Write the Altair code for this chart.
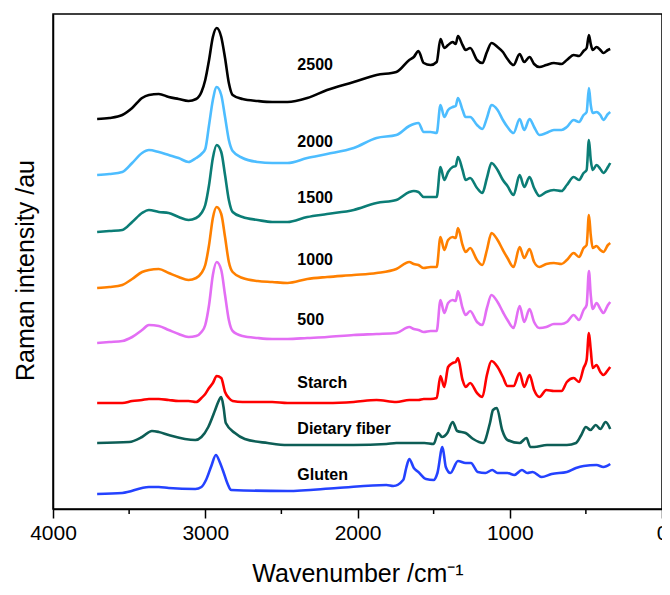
import altair as alt
import pandas as pd

# Shared wavenumber grid (cm-1) for the flour blends and starch
wn_common = [3710, 3630, 3545, 3480, 3415, 3370, 3305, 3240, 3175, 3110,
             3060, 3025, 3000, 2975, 2950, 2925, 2895, 2870, 2845, 2820,
             2755, 2655, 2560, 2460, 2330, 2200, 2025, 1875, 1745, 1660,
             1630, 1600, 1565, 1520, 1480, 1455, 1430, 1405, 1375, 1355,
             1340, 1310, 1290, 1260, 1215, 1180, 1150, 1120, 1080, 1045,
             1015, 975, 935, 905, 870, 840, 805, 760, 710, 660,
             625, 580, 545, 515, 495, 480, 468, 455, 430, 405,
             385, 355, 340]

int_2500 = [390, 391, 394, 401, 411, 414, 415, 412, 410, 408,
            410, 417, 429, 449, 472, 481, 472, 451, 426, 414,
            410, 408, 407, 407, 411, 419, 427, 434, 437, 449,
            452, 458, 446, 444, 447, 470, 461, 464, 467, 465,
            473, 464, 459, 461, 449, 446, 457, 466, 462, 457,
            450, 444, 455, 447, 452, 445, 442, 444, 446, 445,
            449, 454, 453, 458, 461, 474, 465, 459, 462, 459,
            456, 459, 460]

int_2000 = [334, 335, 337, 346, 356, 359, 357, 354, 351, 347,
            351, 355, 360, 384, 409, 422, 414, 392, 369, 358,
            351, 347, 346, 346, 351, 355, 361, 371, 374, 383,
            385, 386, 377, 377, 376, 404, 392, 399, 402, 403,
            411, 399, 392, 392, 384, 380, 391, 404, 399, 389,
            382, 376, 390, 379, 390, 382, 374, 376, 379, 379,
            382, 389, 387, 394, 397, 421, 404, 396, 397, 394,
            389, 395, 397]

int_1500 = [277, 278, 279, 287, 296, 299, 297, 296, 292, 289,
            291, 296, 304, 324, 351, 364, 357, 334, 309, 297,
            292, 289, 287, 287, 292, 295, 299, 306, 309, 317,
            318, 317, 312, 312, 312, 342, 329, 337, 342, 343,
            352, 339, 329, 331, 321, 316, 331, 346, 339, 329,
            323, 314, 334, 322, 332, 321, 313, 317, 319, 318,
            324, 332, 329, 336, 339, 369, 349, 339, 344, 340,
            336, 342, 346]

int_1000 = [221, 222, 224, 230, 237, 239, 240, 236, 232, 229,
            231, 236, 244, 264, 291, 302, 295, 272, 247, 237,
            231, 228, 227, 226, 230, 232, 234, 236, 240, 247,
            245, 244, 241, 242, 242, 272, 259, 269, 272, 271,
            281, 264, 257, 261, 249, 244, 259, 276, 269, 259,
            251, 242, 262, 251, 260, 247, 242, 245, 246, 245,
            249, 256, 252, 261, 264, 294, 274, 261, 263, 259,
            257, 264, 266]

int_500 = [166, 167, 168, 172, 179, 184, 183, 179, 175, 172,
           173, 177, 184, 204, 234, 247, 239, 214, 189, 178,
           173, 171, 170, 170, 171, 172, 174, 175, 176, 182,
           180, 179, 177, 178, 178, 209, 196, 206, 209, 208,
           218, 201, 194, 198, 187, 184, 201, 214, 207, 197,
           189, 181, 203, 187, 200, 187, 181, 182, 185, 185,
           187, 194, 189, 199, 204, 238, 214, 200, 206, 200,
           196, 204, 207]

int_starch = [106, 106, 106, 108, 109, 110, 110, 109, 108, 108,
              107, 111, 115, 121, 126, 133, 131, 117, 111, 108,
              107, 107, 107, 106, 106, 106, 107, 109, 107, 109,
              109, 109, 110, 110, 111, 133, 122, 142, 146, 147,
              151, 129, 122, 126, 116, 112, 134, 148, 142, 132,
              123, 123, 136, 122, 134, 119, 112, 119, 118, 118,
              127, 131, 127, 141, 149, 176, 159, 141, 144, 137,
              134, 139, 142]

wn_fiber = [3710, 3500, 3415, 3350, 3305, 3240, 3065, 3025, 2980, 2935,
            2915, 2895, 2880, 2865, 2805, 2740, 2590, 2460, 2025, 1810,
            1745, 1560, 1500, 1470, 1445, 1410, 1375, 1345, 1290, 1240,
            1175, 1130, 1110, 1085, 1050, 1015, 935, 890, 865, 840,
            755, 710, 625, 565, 530, 500, 470, 435, 405, 370, 340]
int_fiber = [66, 67, 72, 78, 77, 74, 69, 72, 82, 99,
             107, 112, 102, 86, 76, 70, 66, 64, 64, 65,
             66, 66, 65, 76, 72, 76, 87, 78, 76, 70,
             66, 86, 99, 101, 79, 69, 66, 71, 62, 62,
             64, 64, 64, 66, 74, 82, 79, 84, 80, 87, 80]

wn_gluten = [3710, 3545, 3370, 3305, 3240, 3065, 3025, 2995, 2960, 2930,
             2905, 2885, 2850, 2830, 2460, 2135, 1810, 1765, 1700, 1680,
             1660, 1630, 1600, 1550, 1500, 1475, 1442, 1420, 1390, 1340,
             1290, 1255, 1210, 1160, 1115, 1080, 1015, 970, 920, 885,
             850, 790, 725, 625, 565, 515, 430, 385, 340]
int_gluten = [15, 16, 22, 22, 21, 20, 22, 29, 43, 54,
              47, 39, 24, 19, 18, 21, 24, 23, 29, 41,
              50, 41, 37, 30, 29, 36, 62, 42, 36, 48,
              46, 46, 37, 36, 39, 36, 36, 34, 39, 36,
              37, 32, 35, 37, 41, 43, 44, 42, 45]

series_names = ["2500", "2000", "1500", "1000", "500", "Starch", "Dietary fiber", "Gluten"]
series_colors = ["#000000", "#4dbdff", "#0b7d76", "#ff8000", "#e36ef4",
                 "#ff0000", "#0d5e56", "#2442ff"]

label_wn = [2395] * 8
label_int = [444, 367, 311, 249, 189, 126, 80, 34]

series_data = [
    ("2500", wn_common, int_2500),
    ("2000", wn_common, int_2000),
    ("1500", wn_common, int_1500),
    ("1000", wn_common, int_1000),
    ("500", wn_common, int_500),
    ("Starch", wn_common, int_starch),
    ("Dietary fiber", wn_fiber, int_fiber),
    ("Gluten", wn_gluten, int_gluten),
]

rows = []
for name, wns, vals in series_data:
    assert len(wns) == len(vals), name
    for w, v in zip(wns, vals):
        rows.append({"series": name, "wn": w, "intensity": v})
df = pd.DataFrame(rows)

labels_df = pd.DataFrame({"series": series_names, "wn": label_wn, "intensity": label_int})
minor_df = pd.DataFrame({"wn": [3500, 2500, 1500, 500]})

FONT = "Liberation Sans"

xscale = alt.Scale(domain=[0, 4000], reverse=True, nice=False, zero=False)
yscale = alt.Scale(domain=[0, 495], nice=False, zero=False)

x_axis = alt.Axis(values=[0, 1000, 2000, 3000, 4000], format="d", labelFlush=False,
                  labelFontSize=21, labelFont=FONT, labelColor="black", labelPadding=4,
                  tickSize=9, tickWidth=1.5, tickColor="black",
                  domainColor="black", domainWidth=1.5, grid=False,
                  title="Wavenumber /cm⁻¹", titleFont=FONT, titleFontSize=25,
                  titleFontWeight="normal", titleColor="black",
                  titleBaseline="alphabetic", titleY=72)
y_axis = alt.Axis(labels=False, ticks=False, grid=False, domainColor="black", domainWidth=1.5,
                  title="Raman intensity /au", titleFont=FONT, titleFontSize=25,
                  titleFontWeight="normal", titleColor="black", titleX=-15, titleY=256)

lines = alt.Chart(df).mark_line(strokeWidth=2.6, interpolate="monotone").encode(
    x=alt.X("wn:Q", scale=xscale, axis=x_axis),
    y=alt.Y("intensity:Q", scale=yscale, axis=y_axis),
    color=alt.Color("series:N", scale=alt.Scale(domain=series_names, range=series_colors), legend=None),
)

labels = alt.Chart(labels_df).mark_text(align="left", baseline="middle", fontSize=16,
                                         fontWeight="bold", font=FONT, color="black").encode(
    x=alt.X("wn:Q", scale=xscale),
    y=alt.Y("intensity:Q", scale=yscale),
    text="series:N",
)

minor = alt.Chart(minor_df).mark_rule(color="black", strokeWidth=1.5).encode(
    x=alt.X("wn:Q", scale=xscale),
    y=alt.value(495),
    y2=alt.value(500),
)

chart = alt.layer(lines, labels, minor).properties(
    width=609, height=495,
    padding={"left": 45, "top": 6, "right": 0, "bottom": 78},
    autosize=alt.AutoSizeParams(type="none"),
).configure_view(stroke="black", strokeWidth=1.5)

chart.save("out.html", embed_options={"renderer": "svg", "actions": False})
